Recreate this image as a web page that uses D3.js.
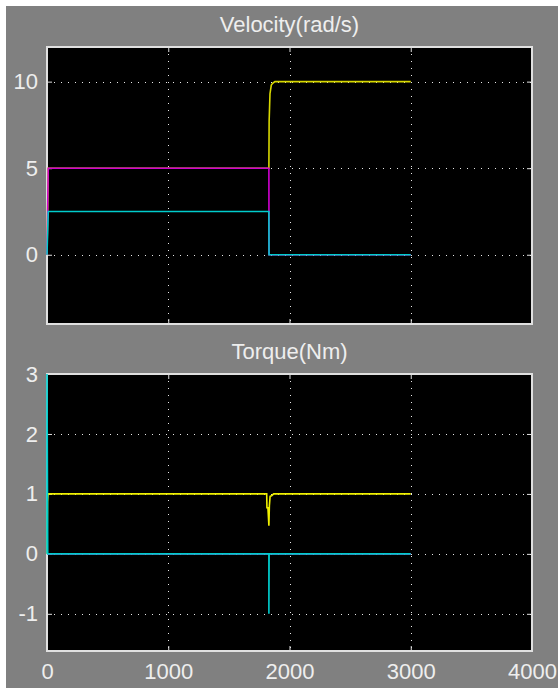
<!DOCTYPE html>
<html>
  <head>
    <meta charset="utf-8">
    <title>Velocity and torque</title>
    <script src="https://d3js.org/d3.v7.min.js"></script>
    <style>
      body { margin: 0; background: #ffffff; }
      svg { display: block; }
      text { font-family: "Liberation Sans", Arial, sans-serif; fill: #eeeeee; }
    </style>
  </head>
  <body>
    <svg id="chart" width="558" height="688"></svg>
    <script>
      // tick values
      xTicks = [0, 1000, 2000, 3000, 4000];
      velTicks = [0, 5, 10];
      torqueTicks = [-1, 0, 1, 2, 3];

      // velocity traces (time, value)
      velYellowT = [0, 10, 1830, 1832, 1839, 1850, 1861, 1880, 3000];
      velYellowV = [0, 5, 5, 7.7, 9.3, 9.8, 9.9, 10, 10];
      velMagentaT = [0, 10, 1830, 1831, 3000];
      velMagentaV = [0, 5, 5, 0, 0];
      velCyanT = [0, 10, 1830, 1831, 3000];
      velCyanV = [0, 2.5, 2.5, 0, 0];

      // torque traces (time, value)
      torqueYellowT = [0, 4, 8, 1812, 1814, 1822, 1830, 1834, 1840, 1852, 1870, 3000];
      torqueYellowV = [0, 0.87, 1, 1, 0.77, 0.77, 0.47, 0.8, 0.96, 0.97, 1, 1];
      torqueMagentaT = [0, 3000];
      torqueMagentaV = [0, 0];
      torqueCyanT = [0, 0, 6, 1830, 1830, 1832, 3000];
      torqueCyanV = [0, 3, 0, 0, -1, 0, 0];

      function zipSeries(t, v) {
        return t.map(function(d, i) { return [d, v[i]]; });
      }
      // plain labels, ascii minus
      function plain(d) { return String(d); }

      panels = [
        {
          title: "Velocity(rad/s)", top: 47, bottom: 324, domain: [-4, 12], ticks: velTicks,
          series: [
            { colour: "#d8d800", data: zipSeries(velYellowT, velYellowV) },
            { colour: "#d000d0", data: zipSeries(velMagentaT, velMagentaV) },
            { colour: "#00cccc", data: zipSeries(velCyanT, velCyanV) }
          ]
        },
        {
          title: "Torque(Nm)", top: 374, bottom: 651, domain: [-1.62, 3], ticks: torqueTicks,
          series: [
            { colour: "#f0f000", data: zipSeries(torqueYellowT, torqueYellowV) },
            { colour: "#d000d0", data: zipSeries(torqueMagentaT, torqueMagentaV) },
            { colour: "#00cccc", data: zipSeries(torqueCyanT, torqueCyanV) }
          ]
        }
      ];

      chart = d3.select("#chart");
      chart.append("rect")
        .attr("x", 6).attr("y", 6)
        .attr("width", 552).attr("height", 682)
        .attr("fill", "#808080");

      left = 47;
      right = 532;
      x = d3.scaleLinear().domain([0, 4000]).range([left, right]);

      panels.forEach(function(p, k) {
        y = d3.scaleLinear().domain(p.domain).range([p.bottom, p.top]);
        g = chart.append("g");

        // plot area
        g.append("rect")
          .attr("x", left).attr("y", p.top)
          .attr("width", right - left).attr("height", p.bottom - p.top)
          .attr("fill", "#000000");

        // dotted grid
        g.selectAll(".vgrid")
          .data(xTicks.filter(function(d) { return d > 0 && d < 4000; }))
          .enter().append("line")
            .attr("x1", function(d) { return Math.round(x(d)) + 0.5; })
            .attr("x2", function(d) { return Math.round(x(d)) + 0.5; })
            .attr("y1", p.top).attr("y2", p.bottom)
            .attr("stroke", "#e8e8e8")
            .attr("stroke-dasharray", "1,6");
        g.selectAll(".hgrid")
          .data(p.ticks)
          .enter().append("line")
            .attr("x1", left).attr("x2", right)
            .attr("y1", function(d) { return Math.round(y(d)) + 0.5; })
            .attr("y2", function(d) { return Math.round(y(d)) + 0.5; })
            .attr("stroke", "#e8e8e8")
            .attr("stroke-dasharray", "1,6");

        // axes with inward ticks
        xAxis = d3.axisBottom(x).tickValues(xTicks).tickSizeInner(-5).tickSizeOuter(0).tickPadding(12)
          .tickFormat(k == 0 ? "" : plain);
        g.append("g")
          .attr("transform", "translate(0," + p.bottom + ")")
          .call(xAxis);
        g.append("g")
          .attr("transform", "translate(0," + p.top + ")")
          .call(d3.axisTop(x).tickValues(xTicks).tickSizeInner(-5).tickSizeOuter(0).tickFormat(""));
        g.append("g")
          .attr("transform", "translate(" + left + ",0)")
          .call(d3.axisLeft(y).tickValues(p.ticks).tickSizeInner(-5).tickSizeOuter(0).tickPadding(9).tickFormat(plain));
        g.append("g")
          .attr("transform", "translate(" + right + ",0)")
          .call(d3.axisRight(y).tickValues(p.ticks).tickSizeInner(-5).tickSizeOuter(0).tickFormat(""));
        g.selectAll(".domain").remove();
        g.selectAll(".tick line").attr("stroke", "#e0e0e0");
        g.selectAll(".tick text")
          .attr("font-family", "'Liberation Sans', Arial, sans-serif")
          .attr("font-size", 22)
          .attr("fill", "#eeeeee");

        // box
        g.append("rect")
          .attr("x", left).attr("y", p.top)
          .attr("width", right - left).attr("height", p.bottom - p.top)
          .attr("fill", "none")
          .attr("stroke", "#e0e0e0")
          .attr("stroke-width", 2);

        // title
        g.append("text")
          .attr("x", (left + right) / 2)
          .attr("y", p.top - 15)
          .attr("text-anchor", "middle")
          .attr("font-size", 22)
          .text(p.title);

        // traces
        g.append("clipPath")
          .attr("id", "clip" + k)
          .append("rect")
            .attr("x", left - 1).attr("y", p.top - 1)
            .attr("width", right - left + 2).attr("height", p.bottom - p.top + 2);
        line = d3.line()
          .x(function(d) { return x(d[0]); })
          .y(function(d) { return y(d[1]); });
        g.selectAll(".trace")
          .data(p.series)
          .enter().append("path")
            .attr("clip-path", "url(#clip" + k + ")")
            .attr("d", function(d) { return line(d.data); })
            .attr("fill", "none")
            .attr("stroke", function(d) { return d.colour; })
            .attr("stroke-width", 1.6);
      });
    </script>
  </body>
</html>
